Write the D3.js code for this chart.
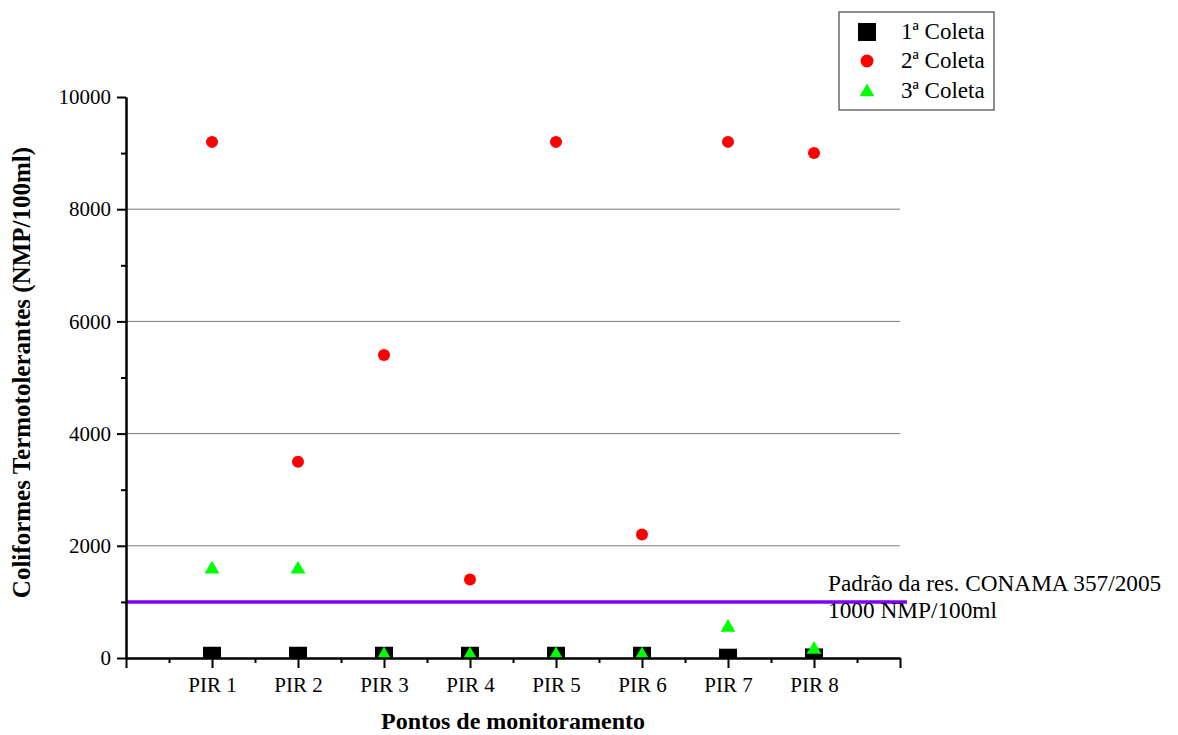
<!DOCTYPE html>
<html>
<head>
<meta charset="utf-8">
<script src="https://cdn.jsdelivr.net/npm/d3@7"></script>
<style>
  body { margin: 0; background: #fff; }
</style>
</head>
<body>
<script>
// values
const categories = ["PIR 1", "PIR 2", "PIR 3", "PIR 4", "PIR 5", "PIR 6", "PIR 7", "PIR 8"]
const coleta1 = [40, 40, 40, 40, 40, 40, 5, 10]
const coleta2 = [9200, 3500, 5400, 1400, 9200, 2200, 9200, 9000]
const coleta3 = [1600, 1600, 70, 70, 70, 70, 560, 170]
const seriesNames = ["1ª Coleta", "2ª Coleta", "3ª Coleta"]
const yMajorTicks = [0, 2000, 4000, 6000, 8000, 10000]
const yMinorTicks = [1000, 3000, 5000, 7000, 9000]
const gridTicks = [2000, 4000, 6000, 8000]
const limitValue = 1000
const limitText = ["Padrão da res. CONAMA 357/2005", "1000 NMP/100ml"]

const w = 1178
const h = 735
const padL = 126, padR = 900, padT = 97, padB = 658
const serif = "'Liberation Serif', 'Times New Roman', serif"

const svg = d3.select("body")
  .append("svg")
  .attr("width", w)
  .attr("height", h)

const xScale = d3.scaleLinear()
  .domain([0, categories.length + 1])
  .range([padL, padR])

const yScale = d3.scaleLinear()
  .domain([0, 10000])
  .range([padB, padT])

svg.append("defs").append("clipPath")
  .attr("id", "plot-clip")
  .append("rect")
  .attr("x", padL)
  .attr("y", padT - 20)
  .attr("width", padR - padL)
  .attr("height", padB - padT + 20)

// grid
svg.append("g")
  .selectAll("line")
  .data(gridTicks)
  .enter()
  .append("line")
  .attr("x1", padL)
  .attr("x2", padR)
  .attr("y1", d => yScale(d))
  .attr("y2", d => yScale(d))
  .attr("stroke", "#7a7a7a")
  .attr("stroke-width", 1)

// reference line
svg.append("line")
  .attr("x1", padL)
  .attr("x2", padR + 7)
  .attr("y1", yScale(limitValue))
  .attr("y2", yScale(limitValue))
  .attr("stroke", "#8000ff")
  .attr("stroke-width", 3.5)

svg.append("g")
  .selectAll("text")
  .data(limitText)
  .enter()
  .append("text")
  .attr("x", 828)
  .attr("y", (d, i) => yScale(limitValue) - 11 + i * 27)
  .style("font-size", "23.3px")
  .text(d => d)

// markers
const marks = svg.append("g").attr("clip-path", "url(#plot-clip)")

marks.selectAll("rect")
  .data(coleta1)
  .enter()
  .append("rect")
  .attr("x", (d, i) => xScale(i + 1) - 9)
  .attr("y", d => yScale(d) - 9)
  .attr("width", 18)
  .attr("height", 18)
  .attr("fill", "#000")

marks.selectAll("circle")
  .data(coleta2)
  .enter()
  .append("circle")
  .attr("cx", (d, i) => xScale(i + 1))
  .attr("cy", d => yScale(d))
  .attr("r", 6)
  .attr("fill", "#ff0000")

const tri = d3.symbol().type(d3.symbolTriangle).size(95)

marks.selectAll("path.tri")
  .data(coleta3)
  .enter()
  .append("path")
  .attr("class", "tri")
  .attr("d", tri)
  .attr("transform", (d, i) => `translate(${xScale(i + 1)}, ${yScale(d) + 1})`)
  .attr("fill", "#00ff00")

// axes
const xAxis = d3.axisBottom(xScale)
  .tickValues(d3.range(0, categories.length + 2))
  .tickFormat(i => categories[i - 1] || "")
  .tickSize(10)
  .tickSizeOuter(0)
  .tickPadding(9)

const xMinor = d3.axisBottom(xScale)
  .tickValues(d3.range(0, categories.length + 1).map(i => i + 0.5))
  .tickFormat("")
  .tickSize(5)
  .tickSizeOuter(0)

const yAxis = d3.axisLeft(yScale)
  .tickValues(yMajorTicks)
  .tickFormat(d3.format("d"))
  .tickSize(9)
  .tickSizeOuter(0)
  .tickPadding(6)

const yMinor = d3.axisLeft(yScale)
  .tickValues(yMinorTicks)
  .tickFormat("")
  .tickSize(5)
  .tickSizeOuter(0)

svg.append("g")
  .attr("transform", `translate(0, ${padB})`)
  .call(xAxis)
svg.append("g")
  .attr("transform", `translate(0, ${padB})`)
  .call(xMinor)
svg.append("g")
  .attr("transform", `translate(${padL}, 0)`)
  .call(yAxis)
svg.append("g")
  .attr("transform", `translate(${padL}, 0)`)
  .call(yMinor)

svg.selectAll(".domain").attr("stroke", "#000").attr("stroke-width", 2)
svg.selectAll(".tick line").attr("stroke", "#000").attr("stroke-width", 2)
svg.selectAll(".tick text").style("font-size", "21px")

svg.append("text")
  .attr("x", (padL + padR) / 2)
  .attr("y", 729)
  .attr("text-anchor", "middle")
  .style("font-size", "24px")
  .style("font-weight", "bold")
  .text("Pontos de monitoramento")

svg.append("text")
  .attr("transform", `translate(30, ${(padT + padB) / 2 - 5}) rotate(-90)`)
  .attr("text-anchor", "middle")
  .style("font-size", "25px")
  .style("font-weight", "bold")
  .text("Coliformes Termotolerantes (NMP/100ml)")

// legend
const legend = svg.append("g").attr("transform", "translate(839, 12)")

legend.append("rect")
  .attr("width", 155)
  .attr("height", 98)
  .attr("fill", "#fff")
  .attr("stroke", "#444")
  .attr("stroke-width", 1.2)

const rowY = [20, 49, 79]

legend.append("rect")
  .attr("x", 28 - 9)
  .attr("y", rowY[0] - 9)
  .attr("width", 18)
  .attr("height", 18)
  .attr("fill", "#000")

legend.append("circle")
  .attr("cx", 28)
  .attr("cy", rowY[1])
  .attr("r", 6.5)
  .attr("fill", "#ff0000")

legend.append("path")
  .attr("d", tri)
  .attr("transform", `translate(28, ${rowY[2] + 1})`)
  .attr("fill", "#00ff00")

legend.selectAll("text")
  .data(seriesNames)
  .enter()
  .append("text")
  .attr("x", 62)
  .attr("y", (d, i) => rowY[i] + 7)
  .style("font-size", "23px")
  .text(d => d)

// every text in Times-like serif
svg.selectAll("text")
  .style("font-family", serif)
  .attr("fill", "#000")
</script>
</body>
</html>
